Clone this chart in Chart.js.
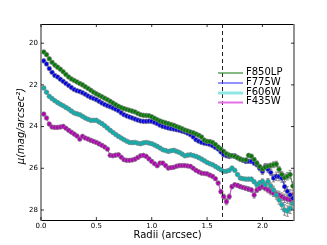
<!DOCTYPE html>
<html>
<head>
<meta charset="utf-8">
<script src="https://cdn.jsdelivr.net/npm/chart.js@4/dist/chart.umd.min.js"></script>
<style>
  html, body { margin: 0; padding: 0; background: #fff; }
  #wrap { width: 327px; height: 245px; }
</style>
</head>
<body>
<div id="wrap"><canvas id="prof"></canvas></div>
<script>
// radii (arcsec)
var radii = [0.025,0.05,0.075,0.1,0.125,0.15,0.175,0.2,0.225,0.25,
  0.275,0.3,0.325,0.35,0.375,0.4,0.425,0.45,0.475,0.5,
  0.525,0.55,0.575,0.6,0.625,0.65,0.675,0.7,0.725,0.75,
  0.775,0.8,0.825,0.85,0.875,0.9,0.925,0.95,0.975,1.0,
  1.025,1.05,1.075,1.1,1.125,1.15,1.175,1.2,1.225,1.25,
  1.275,1.3,1.325,1.35,1.375,1.4,1.425,1.45,1.475,1.5,
  1.525,1.55,1.575,1.6,1.625,1.65,1.675,1.7,1.725,1.75,
  1.775,1.8,1.825,1.85,1.875,1.9,1.925,1.95,1.975,2.0,
  2.025,2.05,2.075,2.1,2.125,2.15,2.175,2.2,2.225,2.25,
  2.275];

var f850lp = [20.42,20.55,20.75,20.92,21.05,21.15,21.25,21.37,21.5,21.62,
  21.72,21.79,21.86,21.93,22.0,22.09,22.17,22.26,22.35,22.43,
  22.5,22.57,22.64,22.71,22.79,22.87,22.95,23.03,23.09,23.14,
  23.18,23.22,23.26,23.3,23.37,23.43,23.46,23.47,23.48,23.53,
  23.6,23.67,23.73,23.78,23.82,23.86,23.9,23.94,24.0,24.05,
  24.11,24.17,24.21,24.26,24.3,24.36,24.42,24.5,24.65,24.71,
  24.72,24.76,24.86,24.98,25.08,25.19,25.3,25.37,25.4,25.43,
  25.5,25.56,25.6,25.6,25.38,25.42,25.58,25.75,25.92,26.04,
  25.95,25.9,25.87,25.83,25.8,26.05,26.3,26.45,26.38,26.3,
  26.85];
var f775w = [20.85,21.0,21.22,21.4,21.55,21.62,21.73,21.83,21.93,22.03,
  22.13,22.22,22.28,22.32,22.38,22.45,22.53,22.6,22.65,22.71,
  22.79,22.87,22.94,23.0,23.05,23.11,23.17,23.24,23.34,23.43,
  23.49,23.54,23.59,23.64,23.69,23.73,23.75,23.75,23.74,23.75,
  23.8,23.86,23.93,23.99,24.03,24.07,24.1,24.12,24.15,24.18,
  24.22,24.26,24.32,24.39,24.5,24.63,24.7,24.76,24.8,24.82,
  24.86,24.92,25.0,25.08,25.22,25.35,25.4,25.43,25.4,25.4,
  25.48,25.56,25.62,25.67,25.66,25.67,25.75,25.83,26.0,26.15,
  25.92,26.05,26.2,26.47,26.38,26.4,26.47,26.88,27.1,27.28,
  27.44];
var f606w = [22.15,22.35,22.55,22.66,22.76,22.85,22.93,23.0,23.08,23.16,
  23.26,23.35,23.39,23.43,23.51,23.59,23.65,23.7,23.7,23.7,
  23.78,23.86,23.96,24.07,24.18,24.28,24.38,24.47,24.55,24.63,
  24.7,24.76,24.77,24.76,24.8,24.82,24.78,24.76,24.79,24.82,
  24.88,24.95,25.03,25.11,25.15,25.19,25.16,25.14,25.19,25.24,
  25.32,25.4,25.37,25.35,25.39,25.43,25.49,25.56,25.64,25.72,
  25.78,25.83,25.91,25.99,26.07,26.15,26.14,26.1,25.99,26.1,
  26.3,26.47,26.5,26.52,26.52,26.52,26.65,26.79,26.7,26.63,
  26.79,26.63,26.85,27.04,27.28,27.52,27.75,28.0,28.05,27.92,
  27.68];
var f435w = [23.4,23.59,23.88,24.02,24.04,24.04,24.02,23.99,24.08,24.18,
  24.27,24.36,24.45,24.6,24.47,24.55,24.6,24.66,24.71,24.76,
  24.83,24.9,24.98,25.08,25.38,25.4,25.37,25.35,25.47,25.59,
  25.62,25.62,25.6,25.56,25.48,25.4,25.38,25.43,25.55,25.67,
  25.78,25.88,25.75,25.75,25.87,25.99,25.97,25.95,25.9,25.87,
  25.87,25.87,25.89,25.91,26.0,26.1,26.17,26.23,26.25,26.27,
  26.33,26.39,26.5,26.71,27.12,27.36,27.6,27.36,26.88,26.79,
  26.82,26.88,26.92,26.96,27.0,27.04,27.28,27.04,26.95,26.88,
  26.96,27.04,27.12,27.2,27.24,27.28,27.36,27.44,27.48,27.52,
  27.28];

// errors (mag)
var errF850lp = [.03,.03,.03,.03,.03,.03,.03,.03,.03,.03,
  .03,.03,.03,.03,.03,.03,.03,.03,.03,.03,
  .03,.03,.03,.03,.03,.03,.03,.03,.03,.03,
  .03,.03,.03,.03,.03,.03,.03,.03,.03,.03,
  .03,.03,.03,.03,.03,.03,.03,.03,.03,.03,
  .03,.03,.03,.03,.03,.03,.03,.03,.03,.03,
  .04,.04,.04,.04,.04,.04,.04,.04,.04,.04,
  .05,.05,.06,.06,.08,.08,.08,.1,.1,.12,
  .12,.12,.12,.14,.14,.15,.15,.18,.18,.2,
  .2];
var errF775w = [.03,.03,.03,.03,.03,.03,.03,.03,.03,.03,
  .03,.03,.03,.03,.03,.03,.03,.03,.03,.03,
  .03,.03,.03,.03,.03,.03,.03,.03,.03,.03,
  .03,.03,.03,.03,.03,.03,.03,.03,.03,.03,
  .03,.03,.03,.03,.03,.03,.03,.03,.03,.03,
  .03,.03,.03,.03,.03,.03,.03,.03,.03,.03,
  .03,.03,.04,.04,.05,.05,.05,.05,.06,.06,
  .06,.07,.07,.08,.08,.1,.1,.1,.12,.15,
  .15,.15,.15,.18,.2,.2,.2,.22,.22,.25,
  .25];
var errF606w = [.03,.03,.03,.03,.03,.03,.03,.03,.03,.03,
  .03,.03,.03,.03,.03,.03,.03,.03,.03,.03,
  .03,.03,.03,.03,.03,.03,.03,.03,.03,.03,
  .03,.03,.03,.03,.03,.03,.03,.03,.03,.03,
  .03,.03,.03,.03,.03,.03,.03,.03,.03,.03,
  .03,.03,.03,.03,.03,.03,.03,.03,.03,.03,
  .04,.04,.04,.04,.04,.04,.04,.04,.04,.04,
  .05,.05,.06,.06,.07,.08,.08,.1,.1,.12,
  .12,.14,.15,.18,.2,.2,.22,.25,.25,.25,
  .25];
var errF435w = [.04,.04,.04,.04,.04,.04,.04,.04,.04,.04,
  .04,.04,.04,.04,.04,.04,.04,.04,.04,.04,
  .04,.04,.04,.04,.04,.04,.04,.04,.04,.04,
  .04,.04,.04,.04,.04,.04,.04,.04,.04,.04,
  .04,.04,.04,.04,.04,.04,.04,.04,.04,.04,
  .05,.05,.05,.05,.05,.05,.05,.05,.05,.05,
  .05,.05,.06,.08,.1,.12,.15,.12,.1,.08,
  .08,.08,.08,.1,.1,.1,.15,.12,.12,.12,
  .12,.14,.15,.15,.15,.18,.18,.2,.2,.2,
  .2];

var filters = ["F850LP", "F775W", "F606W", "F435W"];
var xTicks = [0, 0.5, 1.0, 1.5, 2.0];
var yTicks = [20, 22, 24, 26, 28];
var dashR = 1.633;

var series = [f850lp, f775w, f606w, f435w];
var errs = [errF850lp, errF775w, errF606w, errF435w];
var colors = ["#007a00", "#0000ee", "#00b4b4", "#b400b4"];
var legendColors = ["#2e8b2e", "#4a4aff", "#8ee6e6", "#e46fe4"];
var legendWidths = [1.2, 1.2, 3, 2];

function pts(ys) {
  return ys.map(function(v, i) { return {x: radii[i], y: v}; });
}

var datasets = series.map(function(ys, k) {
  return {
    label: filters[k],
    data: pts(ys),
    borderColor: colors[k],
    backgroundColor: colors[k],
    borderWidth: 0.8,
    pointRadius: 2.3,
    pointBorderColor: "#7f7f7f",
    pointBorderWidth: 0.7,
    pointBackgroundColor: colors[k],
    tension: 0
  };
});

var font = "'DejaVu Sans', sans-serif";

var decor = {
  id: "decor",
  beforeDatasetsDraw: function(chart) {
    var c = chart.ctx, xs = chart.scales.x, ys = chart.scales.y;
    var a = chart.chartArea;
    c.save();
    c.beginPath();
    c.rect(a.left, a.top, a.right - a.left, a.bottom - a.top);
    c.clip();
    c.strokeStyle = "#8f8f8f";
    c.lineWidth = 1;
    for (var k = 0; k < series.length; k++) {
      for (var i = 0; i < radii.length; i++) {
        var px = xs.getPixelForValue(radii[i]);
        var y1 = ys.getPixelForValue(series[k][i] - errs[k][i]);
        var y2 = ys.getPixelForValue(series[k][i] + errs[k][i]);
        c.beginPath();
        c.moveTo(px, y1); c.lineTo(px, y2);
        c.moveTo(px - 1.5, y1); c.lineTo(px + 1.5, y1);
        c.moveTo(px - 1.5, y2); c.lineTo(px + 1.5, y2);
        c.stroke();
      }
    }
    c.restore();
  },
  afterDatasetsDraw: function(chart) {
    var c = chart.ctx, xs = chart.scales.x, ys = chart.scales.y;
    var a = chart.chartArea;
    c.save();
    // dashed line
    var dx = Math.round(xs.getPixelForValue(dashR)) + 0.5;
    c.strokeStyle = "#222";
    c.lineWidth = 1;
    c.setLineDash([4, 3]);
    c.beginPath();
    c.moveTo(dx, a.top); c.lineTo(dx, a.bottom);
    c.stroke();
    c.setLineDash([]);

    // frame
    c.strokeStyle = "#000";
    c.beginPath();
    c.moveTo(a.left, a.top + 0.5); c.lineTo(a.right, a.top + 0.5);
    c.moveTo(a.left, a.bottom + 0.5); c.lineTo(a.right, a.bottom + 0.5);
    c.stroke();
    c.strokeStyle = "#777";
    c.lineWidth = 1.6;
    c.beginPath();
    c.moveTo(a.left, a.top); c.lineTo(a.left, a.bottom + 1);
    c.moveTo(a.right, a.top); c.lineTo(a.right, a.bottom + 1);
    c.stroke();

    // inward ticks
    c.strokeStyle = "#000";
    c.lineWidth = 0.8;
    c.beginPath();
    xTicks.forEach(function(v) {
      var px = xs.getPixelForValue(v);
      c.moveTo(px, a.bottom); c.lineTo(px, a.bottom - 3);
      c.moveTo(px, a.top); c.lineTo(px, a.top + 3);
    });
    yTicks.forEach(function(v) {
      var py = ys.getPixelForValue(v);
      c.moveTo(a.left, py); c.lineTo(a.left + 3, py);
      c.moveTo(a.right, py); c.lineTo(a.right - 3, py);
    });
    c.stroke();

    // legend
    c.font = "10px " + font;
    c.textBaseline = "middle";
    c.textAlign = "left";
    var ly = [73, 83, 93, 102.5];
    for (var k = 0; k < filters.length; k++) {
      c.strokeStyle = legendColors[k];
      c.lineWidth = legendWidths[k];
      c.beginPath();
      c.moveTo(218, ly[k]); c.lineTo(243, ly[k]);
      c.stroke();
      c.fillStyle = "#000";
      c.fillText(filters[k], 246, ly[k] - 1);
    }

    // axis titles
    c.font = "10px " + font;
    c.textAlign = "center";
    c.fillText("Radii (arcsec)", (a.left + a.right) / 2, 235);
    c.translate(21, (a.top + a.bottom) / 2 + 4);
    c.rotate(-Math.PI / 2);
    c.font = "italic 10px " + font;
    c.fillText("\u03bc(mag/arcsec\u00b2)", 0, 0);
    c.restore();
  }
};

new Chart(document.getElementById("prof"), {
  type: "line",
  data: { datasets: datasets },
  options: {
    responsive: true,
    maintainAspectRatio: false,
    animation: false,
    layout: { padding: { left: 0, top: 24, right: 33, bottom: 0 } },
    plugins: { legend: { display: false }, tooltip: { enabled: false } },
    scales: {
      x: {
        type: "linear",
        min: 0,
        max: 2.285,
        afterFit: function(s) { s.height = 25; },
        afterBuildTicks: function(s) { s.ticks = xTicks.map(function(v) { return {value: v}; }); },
        grid: { display: false, drawTicks: false },
        border: { display: false },
        ticks: {
          padding: 2,
          color: "#000",
          font: { size: 7, family: font },
          maxRotation: 0,
          callback: function(v) { return Number(v).toFixed(1); }
        }
      },
      y: {
        type: "linear",
        reverse: true,
        min: 19.08,
        max: 28.48,
        afterFit: function(s) { s.width = 41; },
        afterBuildTicks: function(s) { s.ticks = yTicks.map(function(v) { return {value: v}; }); },
        grid: { display: false, drawTicks: false },
        border: { display: false },
        ticks: {
          padding: 3,
          color: "#000",
          font: { size: 7, family: font },
          callback: function(v) { return String(v); }
        }
      }
    }
  },
  plugins: [decor]
});
</script>
</body>
</html>
